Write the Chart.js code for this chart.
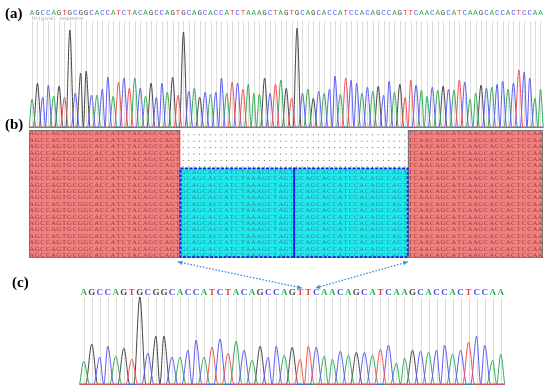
<!DOCTYPE html>
<html>
<head>
<meta charset="utf-8">
<script src="https://cdn.jsdelivr.net/npm/chart.js@4.4.0/dist/chart.umd.min.js"></script>
<style>
  body { margin: 0; background: #fff; }
  #fig { position: relative; width: 550px; height: 391px; overflow: hidden; }
  #fig canvas { position: absolute; left: 0; }
  .panel { position: absolute; font: bold 15px "Liberation Serif", serif; line-height: 15px; color: #000; }
</style>
</head>
<body>
<div id="fig">
  <canvas id="chartA" width="550" height="130" style="top:0px"></canvas>
  <canvas id="chartB" width="550" height="135" style="top:128px"></canvas>
  <canvas id="chartC" width="550" height="136" style="top:255px"></canvas>
  <div class="panel" style="left:5px;top:6px">(a)</div>
  <div class="panel" style="left:5px;top:117px">(b)</div>
  <div class="panel" style="left:12px;top:275px">(c)</div>
</div>
<script>
// (a) original sequence and peak heights
const seqA = 'AGCCAGTGCGGCACCATCTACAGCCAGTGCAGCACCATCTAAAGCTAGTGCAGCACCATCCACAGCCAGTTCAACAGCATCAAGCACCACTCCAA';
const peaksA = [
  28, 44, 30, 42, 31, 41, 30, 97, 34, 54, 56, 32, 32, 38, 50, 31, 45, 49, 39, 49, 39, 31, 44, 30, 44, 35, 50, 32, 95, 36, 39, 30,
  35, 33, 35, 49, 34, 45, 44, 38, 43, 34, 33, 49, 34, 43, 47, 39, 29, 99, 34, 38, 29, 36, 34, 38, 51, 33, 49, 47, 44, 34, 40, 36,
  41, 32, 46, 35, 43, 30, 47, 42, 37, 31, 40, 37, 41, 38, 37, 47, 45, 28, 34, 42, 39, 40, 43, 46, 38, 44, 57, 55, 49, 29, 38
];

// (b) alignment segments
const segLeft = 'AGCCAGTGCGGCACCATCTACAGCCAGT';
const segInsert1 = 'GCAGCACCATCTAAAGCTAGT';
const segInsert2 = 'GCAGCACCATCCACAGCCAGT';
const segRight = 'TCAACAGCATCAAGCACCACTCCAA';
const readCount = 20;
const gapReads = 6;   // reads without the insert (dots)

// (c) edited sequence and peak heights
const seqC = 'AGCCAGTGCGGCACCATCTACAGCCAGTTCAACAGCATCAAGCACCACTCCAA';
const peaksC = [
  23, 40, 27, 38, 28, 36, 25, 87, 31, 48, 48, 27, 27, 34, 44, 27, 37, 45, 31, 43, 34, 24, 38, 27, 38, 29,
  37, 25, 38, 37, 28, 25, 33, 29, 32, 32, 29, 35, 39, 21, 26, 34, 33, 32, 34, 39, 30, 34, 42, 48, 39, 24, 30
];

// arrows: alignment column -> base position in (c)
const linkFromCols = [27.5, 70];
const linkToBases = [27.2, 28.9];

const letterColors = { A: '#2faa4f', C: '#5050f0', G: '#4d4d4d', T: '#f03c3c' };
const traceColors = { A: '#2fab55', C: '#5a5af5', G: '#454545', T: '#f25050' };
const halfWidth = 0.75; // peak foot, in base spacings

function traces(seq, heights) {
  return ['T', 'C', 'A', 'G'].map(b => {
    const idx = [];
    seq.split('').forEach((s, i) => { if (s === b) idx.push(i); });
    const pts = [{ x: -0.5, y: 0 }];
    idx.forEach((i, k) => {
      const prev = k > 0 ? idx[k - 1] : null;
      if (prev === null || i - prev >= 2 * halfWidth) {
        pts.push({ x: i - halfWidth, y: 0 });
      } else {
        pts.push({ x: (i + prev) / 2, y: 0 });
      }
      pts.push({ x: i, y: heights[i] });
      const next = k < idx.length - 1 ? idx[k + 1] : null;
      if (next === null || next - i >= 2 * halfWidth) pts.push({ x: i + halfWidth, y: 0 });
    });
    pts.push({ x: seq.length - 0.5, y: 0 });
    return {
      data: pts.filter(p => p.x >= -0.5 && p.x <= seq.length - 0.5),
      borderColor: traceColors[b],
      borderWidth: 1,
      pointRadius: 0,
      cubicInterpolationMode: 'monotone',
      fill: false,
      clip: 2
    };
  });
}

const chromPlugin = {
  id: 'chrom',
  beforeDatasetsDraw(chart, args, opts) {
    const { ctx, chartArea, scales: { x } } = chart;
    ctx.save();
    ctx.strokeStyle = '#dcdcdc';
    ctx.lineWidth = 1;
    opts.seq.split('').forEach((b, i) => {
      const px = Math.round(x.getPixelForValue(i)) + 0.5;
      ctx.beginPath();
      ctx.moveTo(px, chartArea.top + opts.lineGap);
      ctx.lineTo(px, chartArea.bottom);
      ctx.stroke();
    });
    ctx.font = opts.font;
    ctx.textAlign = 'center';
    ctx.textBaseline = 'middle';
    opts.seq.split('').forEach((b, i) => {
      ctx.fillStyle = letterColors[b];
      ctx.fillText(b, x.getPixelForValue(i), chartArea.top - opts.letterGap);
    });
    if (opts.caption) {
      ctx.font = '5px "DejaVu Sans Mono", monospace';
      ctx.fillStyle = '#a0a0a0';
      ctx.textAlign = 'left';
      ctx.fillText(opts.caption, x.getPixelForValue(0), chartArea.top - 2);
    }
    ctx.restore();
  }
};

function chromOptions(n, yMax, padding, pluginOpts) {
  return {
    responsive: false,
    animation: false,
    layout: { padding },
    plugins: { legend: { display: false }, tooltip: { enabled: false }, chrom: pluginOpts },
    scales: {
      x: { type: 'linear', min: -0.5, max: n - 0.5, display: false },
      y: { min: 0, max: yMax, display: false }
    }
  };
}

const chartA = new Chart(document.getElementById('chartA'), {
  type: 'line',
  data: { datasets: traces(seqA, peaksA) },
  options: chromOptions(seqA.length, 106, { left: 29.3, right: 6.8, top: 21, bottom: 2.7 },
    { seq: seqA, font: '7.5px "Liberation Mono", monospace', letterGap: 7.5, lineGap: 0, caption: 'Original sequence' }),
  plugins: [chromPlugin]
});

// alignment panel
const alignPlugin = {
  id: 'align',
  afterDraw(chart) {
    const { ctx, scales: { x, y } } = chart;
    const c1 = segLeft.length, c2 = c1 + segInsert1.length, c3 = c2 + segInsert2.length, c4 = c3 + segRight.length;
    const rect = (a, b, r0, r1) => [x.getPixelForValue(a), y.getPixelForValue(r0), x.getPixelForValue(b) - x.getPixelForValue(a), y.getPixelForValue(r1) - y.getPixelForValue(r0)];
    const writeRows = (seq, col0, r0, r1, color) => {
      ctx.fillStyle = color;
      for (let r = r0; r < r1; r++) {
        for (let i = 0; i < seq.length; i++) {
          ctx.fillText(seq[i], x.getPixelForValue(col0 + i + 0.5), y.getPixelForValue(r + 0.55));
        }
      }
    };
    ctx.save();
    ctx.font = '6.8px "Liberation Serif", serif';
    ctx.textAlign = 'center';
    ctx.textBaseline = 'middle';

    // red blocks (unchanged flanks)
    [[0, c1, segLeft, 0], [c3, c4, segRight, c3]].forEach(([a, b, seq, col0]) => {
      const [rx, ry, rw, rh] = rect(a, b, 0, readCount);
      ctx.fillStyle = '#f08080';
      ctx.fillRect(rx, ry, rw, rh);
      ctx.strokeStyle = '#7a7a7a';
      ctx.lineWidth = 1;
      ctx.strokeRect(Math.round(rx) + 0.5, Math.round(ry) + 0.5, Math.round(rw) - 1, Math.round(rh) - 1);
      writeRows(seq, col0, 0, readCount, '#a03a3a');
    });

    // dots for reads lacking the insert
    ctx.fillStyle = '#666';
    for (let r = 0; r < gapReads; r++) {
      for (let c = c1; c < c3; c++) {
        ctx.fillRect(x.getPixelForValue(c + 0.5) - 0.5, y.getPixelForValue(r + 0.75) - 0.5, 1, 1);
      }
    }

    // cyan insert blocks
    [[c1, c2, segInsert1], [c2, c3, segInsert2]].forEach(([a, b, seq]) => {
      const [rx, ry, rw, rh] = rect(a, b, gapReads, readCount);
      ctx.fillStyle = '#1fe8ef';
      ctx.fillRect(rx, ry, rw, rh);
      writeRows(seq, a, gapReads, readCount, '#2f8a8a');
    });
    ctx.strokeStyle = '#1a1ae6';
    ctx.lineWidth = 1.8;
    ctx.setLineDash([3, 1.5]);
    [[c1, c2], [c2, c3]].forEach(([a, b]) => {
      const [rx, ry, rw, rh] = rect(a, b, gapReads, readCount);
      ctx.strokeRect(rx, ry, rw, rh - 0.8);
    });
    ctx.restore();
  }
};

const chartB = new Chart(document.getElementById('chartB'), {
  type: 'line',
  data: { datasets: [] },
  options: {
    responsive: false,
    animation: false,
    layout: { padding: { left: 29, right: 7, top: 2, bottom: 5 } },
    plugins: { legend: { display: false }, tooltip: { enabled: false } },
    scales: {
      x: { type: 'linear', min: 0, max: segLeft.length + segInsert1.length + segInsert2.length + segRight.length, display: false },
      y: { type: 'linear', min: 0, max: readCount, reverse: true, display: false }
    }
  },
  plugins: [alignPlugin]
});

// arrows from the alignment down to the edited trace
function dottedArrow(ctx, x1, y1, x2, y2) {
  ctx.beginPath();
  ctx.moveTo(x1, y1);
  ctx.lineTo(x2, y2);
  ctx.stroke();
  const head = (tx, ty, fx, fy) => {
    const ang = Math.atan2(ty - fy, tx - fx);
    ctx.beginPath();
    ctx.moveTo(tx, ty);
    ctx.lineTo(tx - 5 * Math.cos(ang - 0.45), ty - 5 * Math.sin(ang - 0.45));
    ctx.lineTo(tx - 5 * Math.cos(ang + 0.45), ty - 5 * Math.sin(ang + 0.45));
    ctx.closePath();
    ctx.fill();
  };
  ctx.setLineDash([]);
  head(x1, y1, x2, y2);
  head(x2, y2, x1, y1);
  ctx.setLineDash([1.6, 1.6]);
}

const linkPlugin = {
  id: 'links',
  afterDraw(chart) {
    const { ctx, scales: { x, y } } = chart;
    const dy = chartB.canvas.offsetTop - chart.canvas.offsetTop;
    ctx.save();
    ctx.strokeStyle = '#3b8fd8';
    ctx.fillStyle = '#3b8fd8';
    ctx.lineWidth = 1.3;
    ctx.setLineDash([1.6, 1.6]);
    linkFromCols.forEach((col, k) => {
      const x1 = chartB.scales.x.getPixelForValue(col);
      const y1 = chartB.scales.y.getPixelForValue(readCount + 0.6) + dy;
      const x2 = x.getPixelForValue(linkToBases[k]);
      const y2 = y.getPixelForValue(96);
      dottedArrow(ctx, x1, y1, x2, y2);
    });
    ctx.restore();
  }
};

const chartC = new Chart(document.getElementById('chartC'), {
  type: 'line',
  data: { datasets: traces(seqC, peaksC) },
  options: chromOptions(seqC.length, 88, { left: 79.7, right: 45.3, top: 41, bottom: 6.7 },
    { seq: seqC, font: 'bold 9px "Liberation Serif", serif', letterGap: 3, lineGap: 2 }),
  plugins: [chromPlugin, linkPlugin]
});
</script>
</body>
</html>
